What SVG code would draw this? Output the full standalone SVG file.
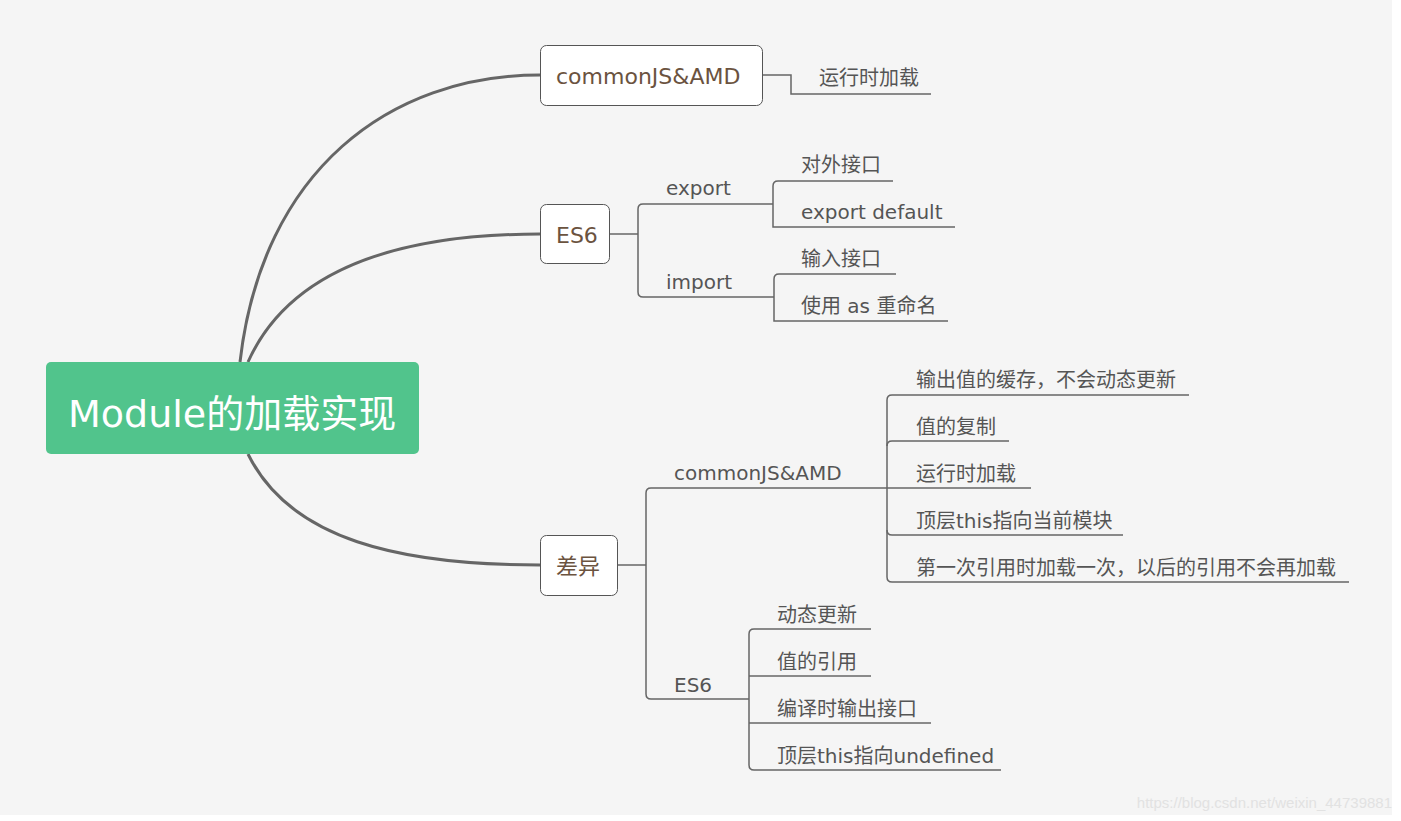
<svg xmlns="http://www.w3.org/2000/svg" width="1401" height="821" viewBox="0 0 1401 821">
<style>
.bg{fill:#f5f5f5}
.box{fill:#ffffff;stroke:#555555;stroke-width:1}
.bt{font-family:"DejaVu Sans","Noto Sans CJK SC",sans-serif;font-size:22px;fill:#6b533f}
.t{font-family:"DejaVu Sans","Noto Sans CJK SC",sans-serif;font-size:20px;fill:#555555}
.main{fill:none;stroke:#666666;stroke-width:3}
.ln{fill:none;stroke:#666666;stroke-width:1.5}
</style>
<rect x="0" y="0" width="1401" height="821" fill="#ffffff"/>
<rect class="bg" x="0" y="0" width="1392" height="815"/>
<g id="connectors">
<path class="main" d="M240,362 C262,170 390,75 540,75"/>
<path class="main" d="M248,362 C290,268 400,234 540,234"/>
<path class="main" d="M248,454 C290,540 400,565 540,565"/>
<path class="ln" d="M762,75 H791 V94 H931"/>
<path class="ln" d="M609,234 H638"/>
<path class="ln" d="M773,204 H643 Q638,204 638,209 V292 Q638,297 643,297 H774"/>
<path class="ln" d="M893,181 H778 Q773,181 773,186 V227 H955"/>
<path class="ln" d="M896,274 H779 Q774,274 774,279 V321 H948"/>
<path class="ln" d="M617,565 H646"/>
<path class="ln" d="M887,488 H651 Q646,488 646,493 V694 Q646,699 651,699 H749"/>
<path class="ln" d="M1189,395 H892 Q887,395 887,400 V577 Q887,582 892,582 H1349"/>
<path class="ln" d="M1009,441 H892 Q887,441 887,446"/>
<path class="ln" d="M887,488 H1031"/>
<path class="ln" d="M1123,535 H892 Q887,535 887,530"/>
<path class="ln" d="M871,629 H754 Q749,629 749,634 V765 Q749,770 754,770 H1001"/>
<path class="ln" d="M749,676 H871"/>
<path class="ln" d="M749,723 H931"/>
</g>
<g id="root">
<rect x="46" y="362" width="373" height="92" rx="5" fill="#51c48c"/>
<text x="68" y="427" font-family="DejaVu Sans,'Noto Sans CJK SC',sans-serif" font-size="38" fill="#ffffff">Module的加载实现</text>
</g>
<g id="n-commonjs">
<rect class="box" x="540.5" y="45.5" width="222" height="60" rx="6"/>
<text class="bt" x="556" y="84">commonJS&amp;AMD</text>
</g>
<g id="n-runtime1"><text class="t" x="819" y="85">运行时加载</text></g>
<g id="n-es6">
<rect class="box" x="540.5" y="204.5" width="69" height="59" rx="6"/>
<text class="bt" x="556" y="243">ES6</text>
</g>
<g id="n-export"><text class="t" x="666" y="195">export</text></g>
<g id="n-duiwai"><text class="t" x="801" y="172">对外接口</text></g>
<g id="n-exportdefault"><text class="t" x="801" y="219">export default</text></g>
<g id="n-import"><text class="t" x="666" y="289">import</text></g>
<g id="n-shuru"><text class="t" x="801" y="266">输入接口</text></g>
<g id="n-as"><text class="t" x="801" y="313">使用 as 重命名</text></g>
<g id="n-diff">
<rect class="box" x="540.5" y="535.5" width="77" height="60" rx="6"/>
<text class="bt" x="556" y="574">差异</text>
</g>
<g id="n-cjs2"><text class="t" x="674" y="480">commonJS&amp;AMD</text></g>
<g id="n-c1"><text class="t" x="916" y="387">输出值的缓存，不会动态更新</text></g>
<g id="n-c2"><text class="t" x="916" y="434">值的复制</text></g>
<g id="n-c3"><text class="t" x="916" y="481">运行时加载</text></g>
<g id="n-c4"><text class="t" x="916" y="528">顶层this指向当前模块</text></g>
<g id="n-c5"><text class="t" x="916" y="575">第一次引用时加载一次，以后的引用不会再加载</text></g>
<g id="n-es6b"><text class="t" x="674" y="692">ES6</text></g>
<g id="n-e1"><text class="t" x="777" y="622">动态更新</text></g>
<g id="n-e2"><text class="t" x="777" y="669">值的引用</text></g>
<g id="n-e3"><text class="t" x="777" y="716">编译时输出接口</text></g>
<g id="n-e4"><text class="t" x="777" y="763">顶层this指向undefined</text></g>
<text x="1392" y="808" text-anchor="end" font-family="Liberation Sans,sans-serif" font-size="15" fill="#e2e2e2">https://blog.csdn.net/weixin_44739881</text>
</svg>
